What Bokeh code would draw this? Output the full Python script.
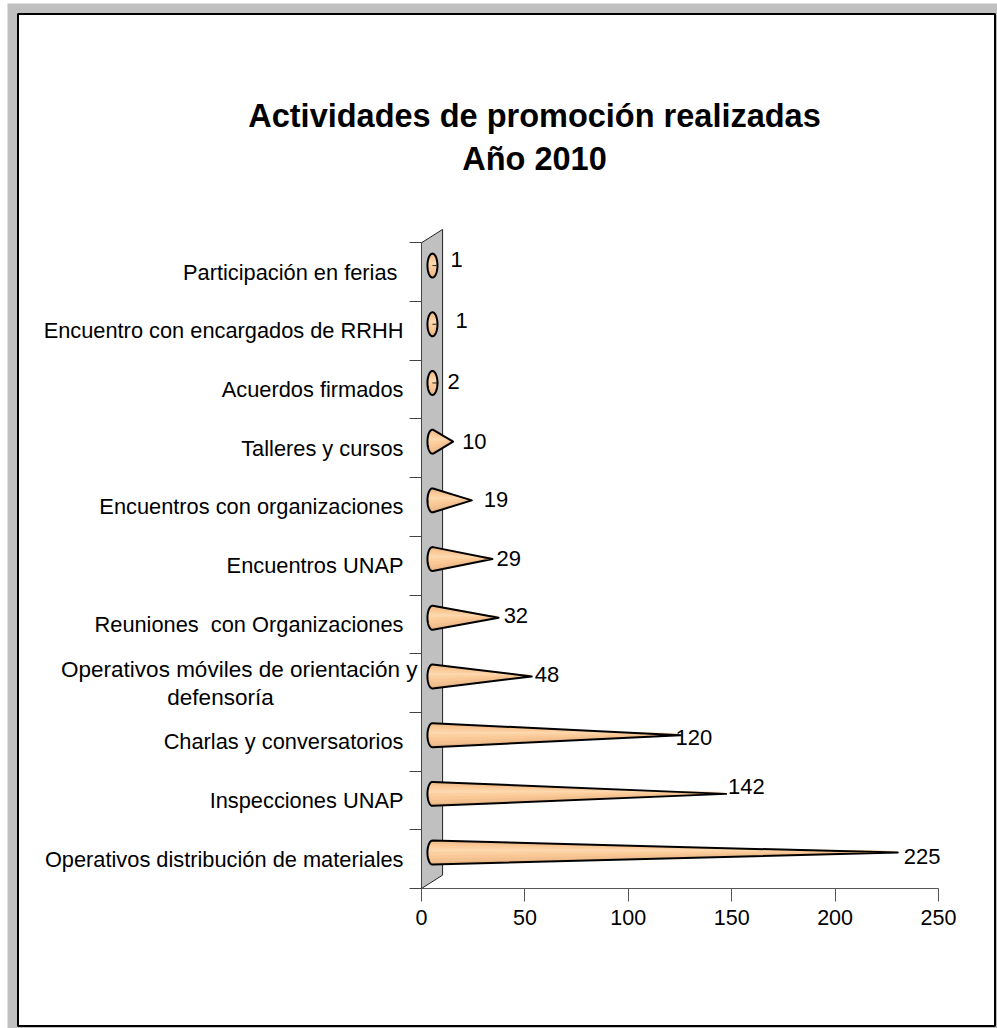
import numpy as np
from bokeh.core.properties import value
from bokeh.embed import file_html
from bokeh.resources import INLINE
from bokeh.plotting import figure
from bokeh.models import ColumnDataSource, FixedTicker, Label, LabelSet, LinearAxis, Range1d

TITLE_LINES = ["Actividades de promoción realizadas", "Año 2010"]
categories = ["Operativos distribución de materiales", "Inspecciones UNAP",
              "Charlas y conversatorios", "Operativos móviles de orientación y\ndefensoría",
              "Reuniones \u00a0con Organizaciones", "Encuentros UNAP", "Encuentros con organizaciones",
              "Talleres y cursos", "Acuerdos firmados", "Encuentro con encargados de RRHH",
              "Participación en ferias\u00a0"]
values = [225, 142, 120, 48, 32, 29, 19, 10, 2, 1, 1]
x_ticks = [0, 50, 100, 150, 200, 250]

# label nudges in pixels
label_dx = [6, 2, -5, 3, 5, 4, 12, 9, 11, 21, 16]
label_dy = [-4, 7, -2, 2, 2.5, 1, 1, 0, 1.5, 4, 6]

FONT = "Liberation Sans"
WIDTH, HEIGHT = 997, 1028
X0, PX_PER_X = 421, 2.068     # screen position of x = 0 and scale
Y0, PX_PER_Y = 888, 58.7      # screen position of y = 0 and scale
WALL_X, WALL_Y = 10.2, 0.228
DX, DY = 5.3, 0.112           # cone offset inside the wall
A, B = 2.42, 0.204            # base ellipse semi-axes


def sx(px):
    return (px - X0) / PX_PER_X


def sy(py):
    return (Y0 - py) / PX_PER_Y


p = figure(width=WIDTH, height=HEIGHT, output_backend="svg", toolbar_location=None,
           x_range=Range1d(sx(0), sx(WIDTH)), y_range=Range1d(sy(HEIGHT), sy(0)),
           x_axis_location=None, y_axis_location=None,
           min_border_left=0, min_border_right=0, min_border_top=0, min_border_bottom=0,
           background_fill_color="white", border_fill_color="white",
           outline_line_color=None)
p.xgrid.visible = False
p.ygrid.visible = False

# page frame
p.quad(left=[sx(7)], right=[sx(WIDTH)], top=[sy(3)], bottom=[sy(HEIGHT)], fill_color="#c0c0c0", line_color=None)
p.quad(left=[sx(17.5)], right=[sx(994.5)], top=[sy(13.5)], bottom=[sy(1025.5)], fill_color="white",
       line_color="black", line_width=2)

n = len(categories)

# wall
p.patch([0, WALL_X, WALL_X, 0], [0, WALL_Y, n + WALL_Y, n], fill_color="#c0c0c0", line_color="#222222", line_width=1)

# axes
xax = LinearAxis(ticker=FixedTicker(ticks=x_ticks), fixed_location=0, bounds=(0, 250),
                 major_tick_out=13, major_tick_in=0,
                 axis_line_color="#555555", major_tick_line_color="#555555",
                 major_label_text_font=FONT, major_label_text_font_size="21.5px", major_label_text_color="black",
                 major_label_standoff=8)
p.add_layout(xax, "below")
yax = LinearAxis(ticker=FixedTicker(ticks=list(range(n + 1))), fixed_location=0, bounds=(0, n),
                 major_tick_out=12, major_tick_in=0,
                 axis_line_color="#444444", major_tick_line_color="#444444",
                 major_label_overrides={i: "" for i in range(n + 1)})
p.add_layout(yax, "left")
single = [i for i, c in enumerate(categories) if "\n" not in c]
lab = LinearAxis(ticker=FixedTicker(ticks=[i + 0.5 for i in single]), fixed_location=0, bounds=(0, n),
                 major_label_overrides={i + 0.5: categories[i] for i in single},
                 axis_line_color=None, major_tick_line_color=None, major_tick_out=0, major_tick_in=0,
                 major_label_text_font=FONT, major_label_text_font_size="21.8px", major_label_text_color="black",
                 major_label_standoff=18)
p.add_layout(lab, "left")
# the one wrapped category is centred on two lines
for i, c in enumerate(categories):
    if "\n" in c:
        first, second = c.split("\n")
        p.add_layout(Label(x=0, y=i + 0.5, text=first, x_offset=-4, y_offset=14, text_align="right",
                           text_baseline="middle", text_font=FONT, text_font_size="22.5px", text_color="black"))
        p.add_layout(Label(x=0, y=i + 0.5, text=second, x_offset=-201, y_offset=-14, text_align="center",
                           text_baseline="middle", text_font=FONT, text_font_size="22.5px", text_color="black"))


def cone(v, s=1.0):
    d = v * 1.0
    if d > A:
        t0 = np.arccos(A / d)
        t = np.linspace(t0, 2 * np.pi - t0, 40)
        xs = np.r_[d, A * np.cos(t), d]
        ys = np.r_[0, B * s * np.sin(t), 0]
    else:
        t = np.linspace(0, 2 * np.pi, 50)
        xs, ys = A * np.cos(t), B * s * np.sin(t)
    return xs, ys


for i, v in enumerate(values):
    cy = i + 0.5 + DY
    for s, shift, col in [(1.0, 0, "#e8b585"), (0.85, 0.012, "#f3c08f"), (0.62, 0.024, "#f9c896"),
                          (0.38, 0.034, "#fccf9f"), (0.14, 0.04, "#fdd7ae")]:
        xs, ys = cone(v, s)
        p.patch(DX + xs, cy + ys + shift, fill_color=col, line_color=None)
    xs, ys = cone(v)
    p.patch(DX + xs, cy + ys, fill_color=None, line_color="black", line_width=2, line_join="round")
    if v <= A:
        p.line([DX, DX + v + 1.0], [cy, cy], line_color="#222222", line_width=1)

# value labels
src = ColumnDataSource(dict(x=[DX + v for v in values], y=[i + 0.5 + DY for i in range(n)],
                            text=[str(v) for v in values], dx=label_dx, dy=label_dy))
p.add_layout(LabelSet(x="x", y="y", text="text", source=src, x_offset="dx", y_offset="dy",
                      text_font=value(FONT), text_font_size="22px", text_color="black", text_baseline="middle"))

# title
for line, py in zip(TITLE_LINES, [115, 158]):
    p.add_layout(Label(x=sx(534), y=sy(py), text=line, text_align="center", text_baseline="middle", text_font=FONT,
                       text_font_size="32.5px", text_font_style="bold", text_color="black"))

open("out.html", "w").write(file_html(p, INLINE))
